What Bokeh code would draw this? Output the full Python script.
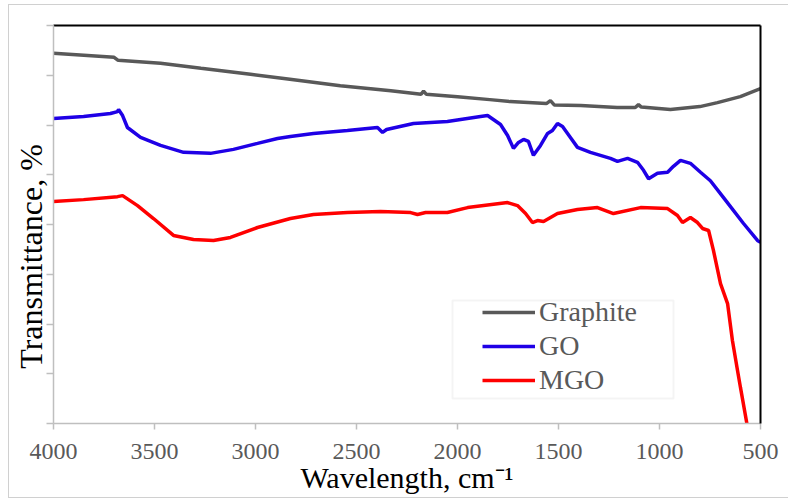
from bokeh.plotting import figure
from bokeh.models import (Range1d, LinearAxis, FixedTicker, Legend, LegendItem, BoxAnnotation,
                          CustomLabelingPolicy)
from bokeh.embed import file_html
from bokeh.resources import INLINE

# ---- data (wavenumber, cm-1  /  transmittance, arbitrary %) ----
wn_graphite = [4000, 3850, 3700, 3680, 3470, 3270, 3025, 2830, 2580, 2330, 2180, 2168, 2155,
               2000, 1840, 1740, 1560, 1540, 1520, 1390, 1210, 1120, 1104, 1090, 946, 800,
               713, 600, 500]
t_graphite = [74.4, 74.0, 73.6, 73.0, 72.4, 71.4, 70.2, 69.2, 67.9, 66.9, 66.2, 66.8, 66.2,
              65.7, 65.1, 64.7, 64.3, 64.9, 64.0, 63.9, 63.5, 63.5, 64.1, 63.6, 63.1, 63.7,
              64.5, 65.7, 67.3]

wn_go = [4000, 3851, 3718, 3683, 3678, 3658, 3634, 3569, 3470, 3356, 3223, 3109, 2990, 2891,
         2827, 2713, 2545, 2396, 2371, 2351, 2218, 2050, 1886, 1851, 1787, 1752, 1723, 1698,
         1673, 1649, 1624, 1589, 1554, 1530, 1505, 1480, 1441, 1406, 1342, 1243, 1208, 1158,
         1109, 1079, 1054, 1030, 1010, 960, 931, 896, 847, 797, 748, 683, 584, 515, 500]
t_go = [61.3, 61.7, 62.3, 62.7, 63.1, 61.9, 59.5, 57.5, 55.9, 54.5, 54.3, 55.1, 56.3, 57.3,
        57.7, 58.3, 58.9, 59.5, 58.5, 59.1, 60.3, 60.7, 61.7, 61.9, 60.1, 57.9, 55.3, 56.5,
        57.1, 56.7, 53.9, 55.9, 58.3, 58.9, 60.3, 59.7, 57.5, 55.5, 54.5, 53.3, 52.7, 53.3,
        52.5, 50.9, 49.2, 49.8, 50.3, 50.5, 51.7, 52.9, 52.3, 50.5, 48.8, 45.4, 40.2, 36.8, 36.4]

wn_mgo = [4000, 3851, 3683, 3658, 3584, 3505, 3406, 3307, 3208, 3124, 2990, 2827, 2713, 2545,
          2381, 2232, 2198, 2158, 2050, 1950, 1752, 1703, 1663, 1629, 1604, 1574, 1505, 1406,
          1307, 1228, 1094, 960, 911, 886, 847, 812, 787, 757, 733, 698, 663, 639, 614, 599, 564]
t_mgo = [44.6, 45.0, 45.6, 45.8, 43.8, 41.2, 37.8, 37.0, 36.8, 37.4, 39.4, 41.2, 42.0, 42.4,
         42.6, 42.4, 42.0, 42.4, 42.4, 43.4, 44.4, 43.8, 42.2, 40.4, 40.8, 40.6, 42.2, 43.0,
         43.4, 42.2, 43.4, 43.2, 41.8, 40.4, 41.4, 40.4, 39.2, 38.8, 34.8, 28.1, 24.1, 16.7,
         10.7, 7.2, -0.8]

x_ticks = [4000, 3500, 3000, 2500, 2000, 1500, 1000, 500]
y_ticks = [0, 10, 20, 30, 40, 50, 60, 70, 80]

series_names = ["Graphite", "GO", "MGO"]
series_colors = ["#595959", "#1f00e6", "#ff0000"]

SERIF = "Liberation Serif"
AXIS_GRAY = "#bfbfbf"
OFF_X, OFF_Y = 9, 5          # canvas offset inside the outer chart border
FRAME_L, FRAME_T, FRAME_R, FRAME_B = 53, 25, 760, 423   # page pixels
W, H = 780, 494

p = figure(width=W, height=H, x_range=Range1d(4000, 500), y_range=Range1d(0, 80),
           output_backend="svg", toolbar_location=None,
           min_border_left=FRAME_L - OFF_X, min_border_right=W - (FRAME_R - OFF_X),
           min_border_top=FRAME_T - OFF_Y, min_border_bottom=H - (FRAME_B - OFF_Y))
p.styles = {"margin-left": "8px", "margin-top": "4px",
            "border-left": "1px solid #d0d0d0", "border-top": "1px solid #d0d0d0",
            "border-bottom": "1px solid #d0d0d0"}
p.xgrid.visible = False
p.ygrid.visible = False
p.outline_line_color = None
p.background_fill_color = "white"
p.border_fill_color = "white"

xa = p.xaxis[0]
xa.ticker = FixedTicker(ticks=x_ticks)
xa.axis_label = "Wavelength, cm\u207b\u00b9"
xa.axis_label_text_font = SERIF
xa.axis_label_text_font_size = "30px"
xa.axis_label_text_font_style = "normal"
xa.axis_label_text_color = "black"
xa.axis_label_standoff = -1
xa.major_label_text_font = SERIF
xa.major_label_text_font_size = "24px"
xa.major_label_text_color = "#595959"
xa.major_label_standoff = 14
xa.axis_line_color = AXIS_GRAY
xa.axis_line_width = 1.5
xa.major_tick_line_color = AXIS_GRAY
xa.major_tick_line_width = 1.5
xa.major_tick_out = 6
xa.major_tick_in = 0
xa.minor_tick_line_color = None

ya = p.yaxis[0]
ya.ticker = FixedTicker(ticks=y_ticks)
ya.axis_label = "Transmittance, %" + "\u00a0" * 8
ya.axis_label_text_font = SERIF
ya.axis_label_text_font_size = "32px"
ya.axis_label_text_font_style = "normal"
ya.axis_label_text_color = "black"
ya.axis_label_standoff = -7
ya.major_label_policy = CustomLabelingPolicy(code="return new Set()")
ya.major_label_text_font_size = "1px"
ya.major_label_standoff = 0
ya.axis_line_color = AXIS_GRAY
ya.axis_line_width = 1.5
ya.major_tick_line_color = AXIS_GRAY
ya.major_tick_line_width = 1.5
ya.major_tick_out = 7
ya.major_tick_in = 0
ya.minor_tick_line_color = None

for side in ("above", "right"):
    ax = LinearAxis(ticker=FixedTicker(ticks=[]), axis_line_color="black", axis_line_width=2,
                    major_tick_line_color=None, minor_tick_line_color=None,
                    major_label_policy=CustomLabelingPolicy(code="return new Set()"),
                    major_label_text_font_size="1px", major_label_standoff=0)
    p.add_layout(ax, side)

renderers = []
for wn, t, color in zip([wn_graphite, wn_go, wn_mgo], [t_graphite, t_go, t_mgo], series_colors):
    r = p.line(wn, t, line_color=color, line_width=3.5)
    renderers.append(r)

# legend frame
p.add_layout(BoxAnnotation(left=451 - OFF_X, right=672 - OFF_X, top=299 - OFF_Y, bottom=397 - OFF_Y,
                           left_units="canvas", right_units="canvas",
                           top_units="canvas", bottom_units="canvas",
                           fill_color="white", fill_alpha=1, line_color="#d9d9d9", line_width=2))

legend = Legend(items=[LegendItem(label=n, renderers=[r]) for n, r in zip(series_names, renderers)],
                location=(429, 27), glyph_width=53, glyph_height=30, label_height=30,
                spacing=2, padding=0, label_standoff=4,
                label_text_font=SERIF, label_text_font_size="28px", label_text_color="#595959",
                border_line_color=None, background_fill_alpha=0)
p.add_layout(legend)

open("out.html", "w").write(file_html(p, INLINE))
